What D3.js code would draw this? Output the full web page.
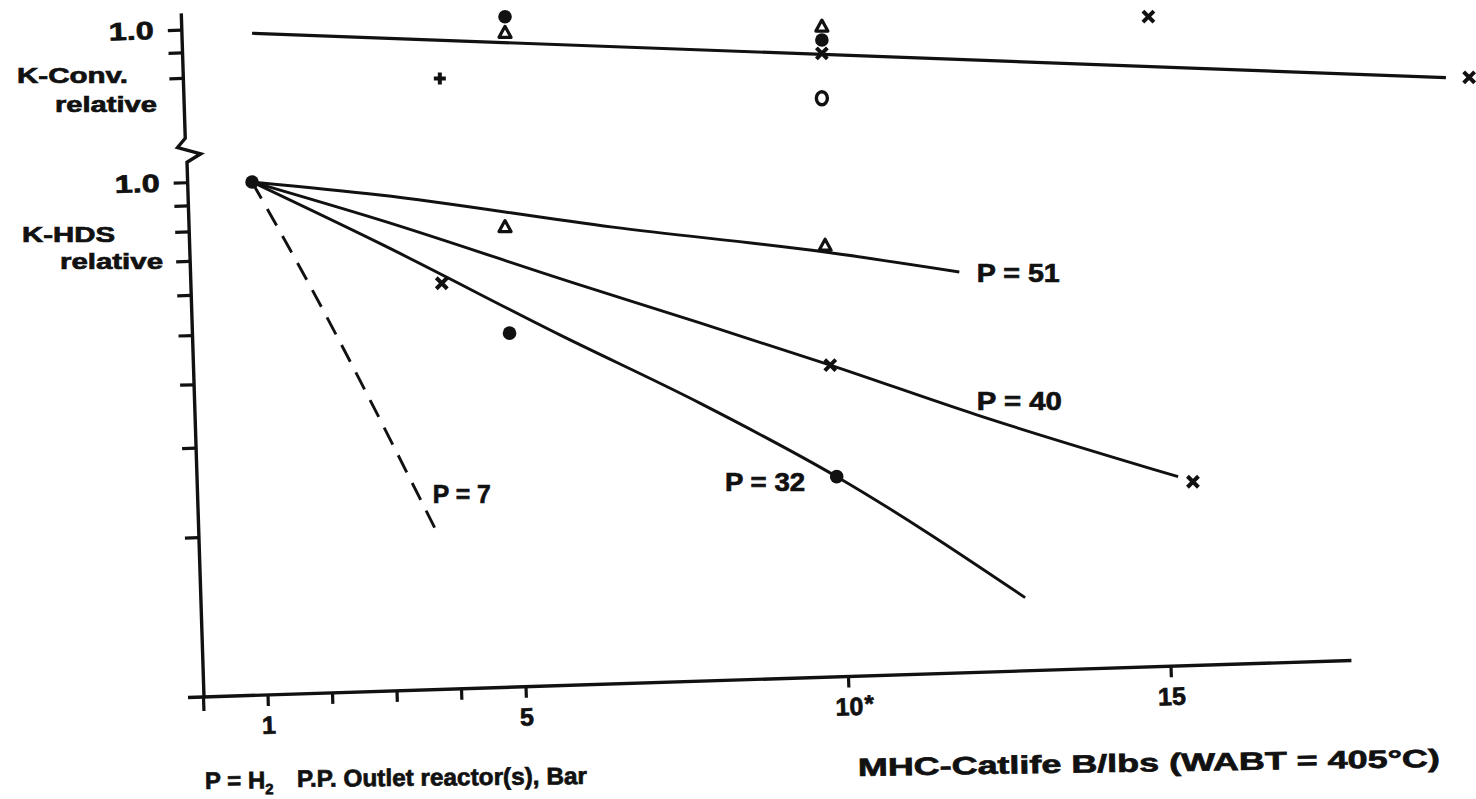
<!DOCTYPE html>
<html>
<head>
<meta charset="utf-8">
<script src="https://cdn.jsdelivr.net/npm/d3@7"></script>
<style>
  body { margin: 0; background: #fff; }
  svg { display: block; }
  text { font-family: "Liberation Sans", Arial, sans-serif; font-weight: bold; fill: #111;
         stroke: #111; stroke-width: 0.7px; }
</style>
</head>
<body>
<div id="wide"></div>
<script>
// values
// x = MHC catalyst life (B/lbs), k = relative rate constant
const xTicks = [0, 1, 2, 3, 4, 5, 10, 15];
const xTickLabels = {1: "1", 5: "5", 10: "10", 15: "15"};
const convTicks = [1.0, 0.9, 0.8];
const hdsTicks = [1.0, 0.9, 0.8, 0.7, 0.6, 0.5, 0.4, 0.3, 0.2];

// K-Conv. relative (upper panel)
const convLine = [[0.76, 0.982], [19.26, 0.800]];
const convDots = [[4.68, 1.060], [9.59, 0.952]];
const convTriangles = [[4.68, 0.986], [9.59, 1.015]];
const convCrosses = [[9.59, 0.895], [14.65, 1.060], [19.62, 0.801]];
const convPlus = [[3.67, 0.797]];
const convCircles = [[9.59, 0.727]];

// K-HDS relative (lower panel), one curve per H2 partial pressure
const p51 = [[0.76, 1.0], [2.74, 0.943], [6.35, 0.815], [9.64, 0.728], [11.72, 0.665]];
const p40 = [[0.76, 1.0], [2.74, 0.842], [5.74, 0.633], [7.70, 0.528], [9.72, 0.436], [11.99, 0.348], [15.11, 0.263]];
const p32 = [[0.76, 1.0], [2.74, 0.757], [5.53, 0.500], [7.70, 0.367], [9.82, 0.263], [12.74, 0.152]];
const p7 = [[0.76, 1.0], [1.61, 0.641], [3.62, 0.205]];

const p51Triangles = [[4.68, 0.817], [9.64, 0.751]];
const p40Crosses = [[3.70, 0.632], [9.72, 0.436], [15.34, 0.257]];
const p32Dots = [[0.76, 1.0], [4.75, 0.504], [9.82, 0.263]];

const lineLabels = [
    {text: "P = 51", x: 11.99, k: 0.636, len: 83},
    {text: "P = 40", x: 11.99, k: 0.356, len: 85},
    {text: "P = 32", x: 8.09, k: 0.247, len: 80},
    {text: "P = 7", x: 3.56, k: 0.233, len: 58}
];

const params = {
    width: 1476,
    height: 799,
    origin: {x: 203, y: 697},
    tilt: -1.82
};

d3.select("#wide")
    .append("svg")
    .attr("id", "chart")
    .attr("width", params.width)
    .attr("height", params.height);

let svg = d3.select("#chart");

const x = d3.scaleLinear().domain([0, 15]).range([203, 1171]);
const yHds = d3.scaleLog().domain([0.1, 1]).range([690, 182]);
const yConv = d3.scaleLog().domain([0.8, 1]).range([77.6, 29.3]);

// the scanned axes are slightly tilted, so they live in a rotated group
let frame = svg.append("g")
    .attr("transform", `rotate(${params.tilt}, ${params.origin.x}, ${params.origin.y})`);

// y axis line with the break between the two panels
frame.append("path")
    .attr("d", d3.line()([[203, 13], [203, 138], [195, 147], [218, 154], [204, 162], [204, 697]]))
    .attr("fill", "none")
    .attr("stroke", "#111")
    .attr("stroke-width", 3.4)
    .attr("stroke-linejoin", "miter");

function styleAxis(g) {
    g.select(".domain").remove();
    g.selectAll(".tick line").attr("stroke", "#111").attr("stroke-width", 3.2);
    g.selectAll(".tick text")
        .attr("font-family", "Liberation Sans, Arial, sans-serif")
        .attr("font-weight", "bold")
        .attr("font-size", 25)
        .attr("fill", "#111");
}

frame.append("g")
    .attr("transform", "translate(203,0)")
    .call(d3.axisLeft(yConv).tickValues(convTicks).tickSize(14).tickPadding(14)
        .tickFormat(d => d === 1 ? "1.0" : ""))
    .call(styleAxis);

frame.append("g")
    .attr("transform", "translate(204,0)")
    .call(d3.axisLeft(yHds).tickValues(hdsTicks).tickSize(14).tickPadding(14)
        .tickFormat(d => d === 1 ? "1.0" : ""))
    .call(styleAxis);

frame.selectAll(".tick text")
    .filter(function () { return this.textContent === "1.0"; })
    .attr("textLength", 45)
    .attr("lengthAdjust", "spacingAndGlyphs");

// x axis
frame.append("line")
    .attr("x1", 188).attr("x2", 1352)
    .attr("y1", params.origin.y).attr("y2", params.origin.y)
    .attr("stroke", "#111")
    .attr("stroke-width", 3.4);

let xAxis = frame.append("g")
    .attr("transform", `translate(0,${params.origin.y})`)
    .call(d3.axisBottom(x).tickValues(xTicks).tickSize(11).tickPadding(10)
        .tickFormat(d => xTickLabels[d] || ""))
    .call(styleAxis);

xAxis.selectAll(".tick")
    .filter(d => d === 0)
    .select("line")
    .attr("y2", 14);

xAxis.selectAll(".tick")
    .filter(d => d === 10)
    .append("text")
    .attr("x", 15)
    .attr("y", 19)
    .attr("dy", "0.71em")
    .attr("text-anchor", "start")
    .attr("font-size", 24)
    .text("*");

// data marks, drawn in page space
let plot = svg.append("g").attr("class", "marks");

const lineConv = d3.line().x(d => x(d[0])).y(d => yConv(d[1]));
const lineHds = d3.line().x(d => x(d[0])).y(d => yHds(d[1])).curve(d3.curveMonotoneX);

plot.append("path")
    .attr("d", lineConv(convLine))
    .attr("fill", "none")
    .attr("stroke", "#111")
    .attr("stroke-width", 3.2);

[p51, p40, p32].forEach(series => {
    plot.append("path")
        .attr("d", lineHds(series))
        .attr("fill", "none")
        .attr("stroke", "#111")
        .attr("stroke-width", 2.9);
});

plot.append("path")
    .attr("d", lineHds(p7))
    .attr("fill", "none")
    .attr("stroke", "#111")
    .attr("stroke-width", 2.9)
    .attr("stroke-dasharray", "19,12");

// marker shapes
const shapes = {
    triangle: "M0,-6L6,5L-6,5Z",
    cross: "M-5.5,-5.5L5.5,5.5M-5.5,5.5L5.5,-5.5",
    plus: "M-6,0L6,0M0,-6L0,6"
};

function drawDots(data, y) {
    plot.append("g").selectAll("circle")
        .data(data)
        .enter().append("circle")
        .attr("cx", d => x(d[0]))
        .attr("cy", d => y(d[1]))
        .attr("r", 6.8)
        .attr("fill", "#111");
}

function drawCircles(data, y) {
    plot.append("g").selectAll("ellipse")
        .data(data)
        .enter().append("ellipse")
        .attr("cx", d => x(d[0]))
        .attr("cy", d => y(d[1]))
        .attr("rx", 5.5)
        .attr("ry", 6.5)
        .attr("fill", "none")
        .attr("stroke", "#111")
        .attr("stroke-width", 3.4);
}

function drawShape(data, y, shape, filled) {
    plot.append("g").selectAll("path")
        .data(data)
        .enter().append("path")
        .attr("transform", d => `translate(${x(d[0])},${y(d[1])})`)
        .attr("d", shapes[shape])
        .attr("fill", filled ? "#111" : "#fff")
        .attr("stroke", "#111")
        .attr("stroke-width", shape === "triangle" ? 3.2 : 4)
        .attr("stroke-linejoin", "round");
}

drawDots(convDots, yConv);
drawShape(convTriangles, yConv, "triangle", false);
drawShape(convCrosses, yConv, "cross", false);
drawShape(convPlus, yConv, "plus", false);
drawCircles(convCircles, yConv);

drawShape(p51Triangles, yHds, "triangle", false);
drawShape(p40Crosses, yHds, "cross", false);
drawDots(p32Dots, yHds);

// curve labels
plot.append("g").selectAll("text")
    .data(lineLabels)
    .enter().append("text")
    .attr("x", d => x(d.x))
    .attr("y", d => yHds(d.k))
    .attr("font-size", 26)
    .attr("textLength", d => d.len)
    .attr("lengthAdjust", "spacingAndGlyphs")
    .text(d => d.text);

// axis titles
function label(str, px, py, len, size) {
    return svg.append("text")
        .attr("x", px)
        .attr("y", py)
        .attr("font-size", size || 26)
        .attr("textLength", len)
        .attr("lengthAdjust", "spacingAndGlyphs")
        .text(str);
}

label("K-Conv.", 17, 83, 111, 22);
label("relative", 55, 112, 102, 22);
label("K-HDS", 22, 242, 93, 22);
label("relative", 60, 269, 103, 22);

let pH2 = svg.append("text")
    .attr("x", 205)
    .attr("y", 789)
    .attr("font-size", 24)
    .attr("transform", "rotate(-0.6, 205, 789)");
pH2.append("tspan").text("P = H");
pH2.append("tspan").attr("dy", 6).attr("font-size", 15).text("2");

label("P.P. Outlet reactor(s), Bar", 297, 787, 290, 24)
    .attr("transform", "rotate(-0.6, 297, 787)");

label("MHC-Catlife B/lbs (WABT = 405°C)", 858, 776, 582, 25)
    .attr("transform", "rotate(-0.9, 858, 776)");
</script>
</body>
</html>
